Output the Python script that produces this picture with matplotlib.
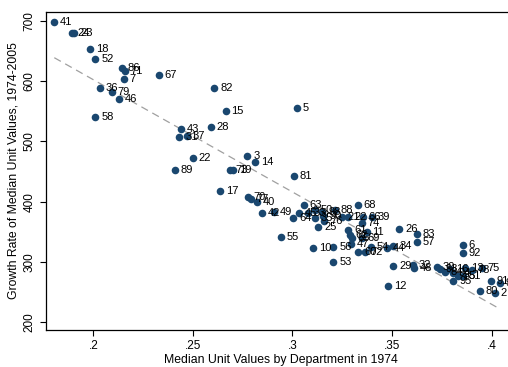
import numpy as np
import matplotlib.pyplot as plt

plt.rcParams['font.family'] = ['Liberation Sans', 'DejaVu Sans']

# Department ids and their values
dept = ['41', '24', '23', '18', '52', '86', '71', '7', '67', '36',
        '79', '46', '58', '82', '15', '5', '28', '43', '31', '37',
        '22', '89', '3', '14', '73', '19', '81', '17', '70', '77',
        '40', '42', '49', '55', '63', '50', '64', '33', '35', '98',
        '90', '76', '25', '88', '21', '22', '68', '66', '39', '74',
        '61', '62', '11', '65', '69', '47', '60', '72', '54', '44',
        '34', '10', '56', '53', '26', '83', '57', '6', '92', '29',
        '32', '48', '30', '93', '84', '16', '94', '85', '95', '13',
        '51', '78', '75', '91', '99', '80', '2', '12', '45']
unit_1974 = [0.1804, 0.1892, 0.1905, 0.1985, 0.2010, 0.2143, 0.2159, 0.2154, 0.2330, 0.2034,
             0.2092, 0.2131, 0.2010, 0.2607, 0.2665, 0.3023, 0.2589, 0.2439, 0.2432, 0.2469,
             0.2499, 0.2409, 0.2773, 0.2812, 0.2686, 0.2703, 0.3006, 0.2638, 0.2775, 0.2790,
             0.2820, 0.2848, 0.2905, 0.2941, 0.3058, 0.3113, 0.3004, 0.3079, 0.3113, 0.3150,
             0.3155, 0.3160, 0.3130, 0.3213, 0.3247, 0.3280, 0.3327, 0.3352, 0.3398, 0.3347,
             0.3280, 0.3289, 0.3373, 0.3297, 0.3347, 0.3294, 0.3330, 0.3364, 0.3394, 0.3476,
             0.3506, 0.3104, 0.3205, 0.3205, 0.3536, 0.3624, 0.3624, 0.3854, 0.3854, 0.3506,
             0.3603, 0.3611, 0.3724, 0.3740, 0.3766, 0.3791, 0.3804, 0.3832, 0.3807, 0.3866,
             0.3854, 0.3900, 0.3950, 0.3997, 0.4042, 0.3941, 0.4017, 0.3481, 0.3033]
growth = [698.3, 680.1, 680.0, 653.0, 636.4, 621.4, 616.4, 603.2, 610.8, 588.2,
          581.6, 570.4, 540.0, 589.2, 550.5, 555.0, 523.9, 520.1, 506.8, 509.0,
          472.9, 452.5, 475.7, 466.3, 452.5, 452.5, 442.5, 418.1, 408.1, 404.8,
          399.8, 381.6, 381.9, 340.7, 394.4, 386.0, 373.3, 380.6, 373.3, 383.2,
          376.6, 367.8, 358.3, 386.0, 374.0, 374.0, 394.4, 374.9, 374.9, 363.9,
          352.8, 344.5, 349.0, 339.0, 340.0, 329.1, 316.8, 316.8, 325.1, 322.4,
          326.2, 322.4, 324.1, 300.2, 354.0, 345.7, 332.4, 327.9, 314.1, 293.5,
          294.7, 289.2, 291.9, 287.5, 283.6, 287.5, 281.9, 276.4, 268.6, 289.2,
          276.4, 286.4, 289.2, 268.6, 264.3, 251.5, 247.7, 259.8, 380.6]

# fitted line end points
fit_x = [0.1804, 0.4042]
fit_y = [639.0, 221.6]

x_ticks = [0.2, 0.25, 0.3, 0.35, 0.4]
x_tick_labels = ['.2', '.25', '.3', '.35', '.4']
y_ticks = [200, 300, 400, 500, 600, 700]

navy = '#1a476f'

fig = plt.figure(figsize=(5.08, 3.67), dpi=100)
ax = fig.add_axes([0.0906, 0.1008, 0.923, 0.8665])

ax.plot(fit_x, fit_y, color='#a0a0a0', linestyle=(0, (6, 4)), linewidth=0.9, zorder=1)
ax.scatter(unit_1974, growth, s=30, color=navy, linewidths=0, zorder=3)
for lab, xv, yv in zip(dept, unit_1974, growth):
    ax.annotate(lab, (xv, yv), xytext=(4.2, 0), textcoords='offset points',
                va='center', ha='left', fontsize=8, color='black', zorder=4)

ax.set_xlim(0.17625, 0.4117)
ax.set_ylim(186.7, 714.9)
ax.set_xticks(x_ticks)
ax.set_xticklabels(x_tick_labels)
ax.set_yticks(y_ticks)
ax.tick_params(axis='both', direction='out', length=4, width=0.8, labelsize=8.5)
for t in ax.get_yticklabels():
    t.set_rotation(90)
    t.set_va('center')

ax.set_xlabel('Median Unit Values by Department in 1974', fontsize=8.8, labelpad=1)
ax.set_ylabel('Growth Rate of Median Unit Values, 1974-2005', fontsize=8.8, labelpad=3)
for s in ax.spines.values():
    s.set_linewidth(0.9)

fig.savefig('out.png', dpi=100)
